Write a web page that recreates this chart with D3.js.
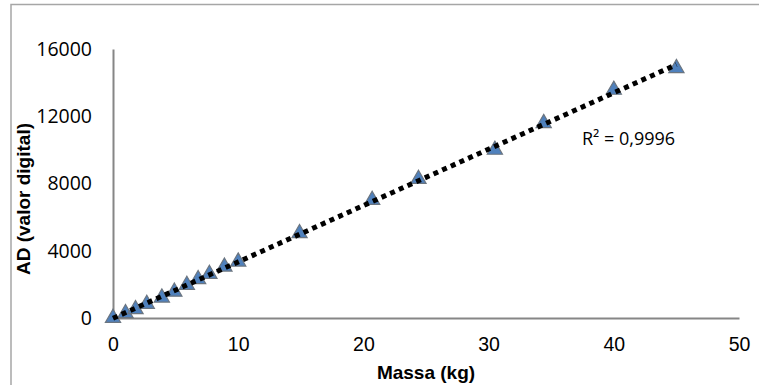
<!DOCTYPE html>
<html>
<head>
<meta charset="utf-8">
<script src="https://cdn.jsdelivr.net/npm/d3@7"></script>
<style>
  body { margin: 0; background: #fff; }
  svg { display: block; }
</style>
</head>
<body>
<div id="chart"></div>
<script>
// dados
const massa = [0, 1.0, 1.8, 2.7, 3.9, 4.9, 5.9, 6.8, 7.7, 8.9, 10.0, 14.9, 20.7, 24.4, 30.5, 34.4, 40.0, 45.0];
const ad    = [0, 280, 520, 830, 1210, 1560, 1960, 2300, 2620, 3050, 3350, 5040, 7020, 8270, 10000, 11590, 13570, 14860];
const xTicks = [0, 10, 20, 30, 40, 50];
const yTicks = [0, 4000, 8000, 12000, 16000];
const r2Label = "R² = 0,9996";

const W = 759, H = 385;
const svg = d3.select("#chart").append("svg")
    .attr("width", W)
    .attr("height", H);

// moldura externa
svg.append("rect")
    .attr("x", 11).attr("y", 4.5)
    .attr("width", 760).attr("height", 400)
    .attr("fill", "none")
    .attr("stroke", "#a6a6a6")
    .attr("stroke-width", 1.5);

const x = d3.scaleLinear().domain([0, 50]).range([113, 739]);
const y = d3.scaleLinear().domain([0, 16000]).range([318, 49]);

// eixos
const gx = svg.append("g")
    .attr("transform", `translate(0,${y(0)})`)
    .call(d3.axisBottom(x).tickValues(xTicks).tickSize(0).tickPadding(19));
gx.selectAll("text")
    .style("font-family", "'Liberation Sans', Arial, sans-serif")
    .style("font-size", "19.5px")
    .attr("fill", "#000");

const gy = svg.append("g")
    .attr("transform", `translate(${x(0)},0)`)
    .call(d3.axisLeft(y).tickValues(yTicks).tickFormat(d3.format("d")).tickSize(0).tickPadding(21));
gy.selectAll("text")
    .style("font-family", "'Open Sans', 'Noto Sans', sans-serif")
    .style("font-size", "19.5px")
    .attr("fill", "#000");

[gx, gy].forEach(g => g.select(".domain")
    .attr("stroke", "#868686")
    .attr("stroke-width", 2));

// linha de tendência (regressão linear)
const pts = massa.map((m, i) => ({m: m, a: ad[i]}));
const mx = d3.mean(pts, d => d.m), my = d3.mean(pts, d => d.a);
const slope = d3.sum(pts, d => (d.m - mx) * (d.a - my)) / d3.sum(pts, d => (d.m - mx) ** 2);
const inter = my - slope * mx;
const trend = [d3.min(massa), d3.max(massa)].map(m => ({m: m, a: inter + slope * m}));

// pontos (triângulos)
svg.append("g").selectAll("path")
    .data(pts)
    .enter()
    .append("path")
    .attr("transform", d => `translate(${x(d.m)},${y(d.a)})`)
    .attr("d", d3.symbol().type(d3.symbolTriangle).size(100))
    .attr("fill", "#4f81bd")
    .attr("stroke", "#6b7580")
    .attr("stroke-width", 1.2);

svg.append("path")
    .datum(trend)
    .attr("d", d3.line().x(d => x(d.m)).y(d => y(d.a)))
    .attr("fill", "none")
    .attr("stroke", "#000")
    .attr("stroke-width", 5)
    .attr("stroke-dasharray", "5,4.5");

svg.append("text")
    .attr("x", 582)
    .attr("y", 145)
    .style("font-family", "'Open Sans', 'Noto Sans', sans-serif")
    .style("font-size", "18px")
    .text(r2Label);

// títulos dos eixos
svg.append("text")
    .attr("x", 426)
    .attr("y", 379)
    .attr("text-anchor", "middle")
    .style("font-family", "'Liberation Sans', Arial, sans-serif")
    .style("font-weight", "bold")
    .style("font-size", "19px")
    .text("Massa (kg)");

svg.append("text")
    .attr("transform", "translate(30,199) rotate(-90)")
    .attr("text-anchor", "middle")
    .style("font-family", "'Liberation Sans', Arial, sans-serif")
    .style("font-weight", "bold")
    .style("font-size", "19px")
    .text("AD (valor digital)");
</script>
</body>
</html>
